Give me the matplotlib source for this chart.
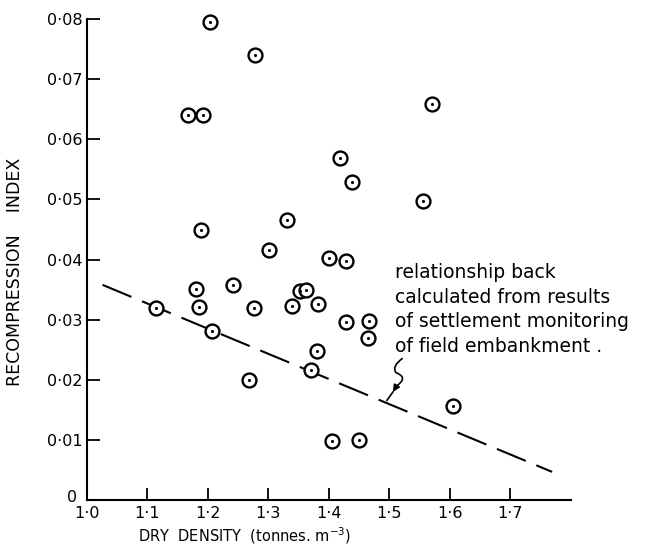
import matplotlib.pyplot as plt
from matplotlib.path import Path
from matplotlib.patches import PathPatch
from matplotlib.transforms import ScaledTranslation

# Dry density (tonnes/m3) and recompression index
density = [1.114, 1.167, 1.180, 1.185, 1.188, 1.192, 1.204, 1.207, 1.241, 1.268,
           1.276, 1.278, 1.301, 1.330, 1.339, 1.353, 1.363, 1.370, 1.380, 1.382,
           1.400, 1.406, 1.418, 1.429, 1.429, 1.439, 1.450, 1.465, 1.467, 1.556,
           1.571, 1.605]
recomp = [0.0319, 0.0641, 0.0351, 0.0321, 0.0449, 0.0641, 0.0795, 0.0281, 0.0358, 0.0200,
          0.0319, 0.0740, 0.0416, 0.0466, 0.0323, 0.0348, 0.0349, 0.0216, 0.0248, 0.0327,
          0.0402, 0.0098, 0.0569, 0.0398, 0.0297, 0.0529, 0.0100, 0.0270, 0.0298, 0.0498,
          0.0658, 0.0157]

# back-calculated relationship (dashed line end points)
line_x = [1.026, 1.769]
line_y = [0.0358, 0.0047]

xticks = [1.0, 1.1, 1.2, 1.3, 1.4, 1.5, 1.6, 1.7]
xlabels = ['1·0', '1·1', '1·2', '1·3', '1·4', '1·5', '1·6', '1·7']
yticks = [0, 0.01, 0.02, 0.03, 0.04, 0.05, 0.06, 0.07, 0.08]
ylabels = ['0', '0·01', '0·02', '0·03', '0·04', '0·05', '0·06', '0·07', '0·08']

note = ("relationship back\ncalculated from results\n"
        "of settlement monitoring\nof field embankment .")


def main():
    fig = plt.figure(figsize=(6.48, 5.46), dpi=100)
    ax = fig.add_axes([0.134, 0.084, 0.747, 0.881])

    ax.plot(line_x, line_y, color='black', lw=1.5, dashes=(15, 5.5), zorder=2)
    ax.plot(density, recomp, 'o', ms=10, mfc='white', mec='black', mew=1.7,
            zorder=3, clip_on=False)
    ax.plot(density, recomp, '.', ms=2.5, color='black', zorder=4, clip_on=False)

    ax.set_xlim(1.0, 1.8)
    ax.set_ylim(0, 0.08)
    ax.spines['top'].set_visible(False)
    ax.spines['right'].set_visible(False)
    ax.spines['left'].set_linewidth(1.5)
    ax.spines['bottom'].set_linewidth(1.5)

    ax.set_xticks(xticks)
    ax.set_xticklabels(xlabels)
    ax.set_yticks(yticks)
    ax.set_yticklabels(ylabels)
    ax.tick_params(axis='both', direction='in', length=9, width=1.3, labelsize=11.5)
    ax.tick_params(axis='x', pad=4)
    ax.tick_params(axis='y', pad=3)
    ax.xaxis.get_major_ticks()[0].tick1line.set_visible(False)
    ax.yaxis.get_major_ticks()[0].tick1line.set_visible(False)
    # origin "0" sits a little up and left so it clears the "1·0"
    zero = ax.yaxis.get_major_ticks()[0].label1
    zero.set_transform(zero.get_transform() + ScaledTranslation(-4 / 72, 3 / 72, fig.dpi_scale_trans))

    ax.set_xlabel('DRY  DENSITY  (tonnes. m$^{-3}$)', fontsize=10.5)
    ax.xaxis.set_label_coords(0.326, -0.053)
    ax.set_ylabel('RECOMPRESSION    INDEX', fontsize=12.5)
    ax.yaxis.set_label_coords(-0.13, 0.474)

    ax.text(1.510, 0.0394, note, fontsize=13.5, va='top', ha='left', linespacing=1.37)

    # squiggly leader pointing to the dashed line
    verts = [(1.522, 0.0236), (1.503, 0.0222), (1.511, 0.0212),
             (1.532, 0.0204), (1.512, 0.0190)]
    codes = [Path.MOVETO, Path.CURVE3, Path.CURVE3, Path.CURVE3, Path.CURVE3]
    ax.add_patch(PathPatch(Path(verts, codes), fill=False, lw=1.2, color='black'))
    ax.annotate('', xy=(1.506, 0.0180), xytext=(1.512, 0.0190),
                arrowprops=dict(arrowstyle='-|>', color='black', lw=1.2,
                                mutation_scale=10, shrinkA=0, shrinkB=0))
    ax.plot([1.506, 1.496], [0.0180, 0.0166], color='black', lw=1.2)

    plt.savefig('out.png')


if __name__ == '__main__':
    main()
